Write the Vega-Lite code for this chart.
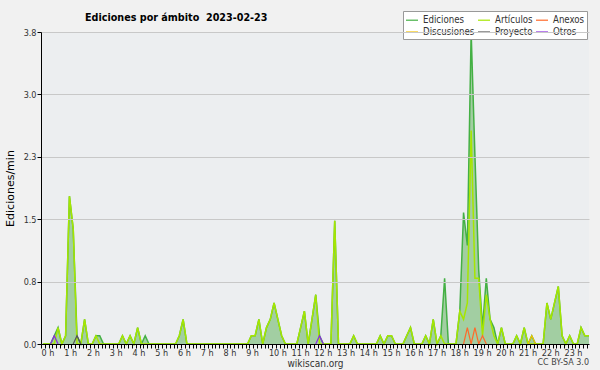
{
  "$schema": "https://vega.github.io/schema/vega-lite/v6.json",
  "width": 548,
  "height": 312,
  "autosize": {"type": "none"},
  "padding": {"left": 41, "top": 32, "right": 11, "bottom": 26},
  "background": "#f1f1f1",
  "config": {
    "view": {"fill": "#eceef0", "stroke": null},
    "font": "DejaVu Sans Condensed"
  },
  "title": {
    "text": "Ediciones por ámbito\u00a0 2023-02-23",
    "anchor": "start",
    "frame": "group",
    "dx": 44,
    "offset": -13,
    "fontSize": 10.7,
    "fontWeight": "bold",
    "font": "DejaVu Sans Condensed",
    "color": "#000000"
  },
  "datasets": {
    "main": [
      {"t":0.083,"E":0,"A":0},{"t":0.25,"E":0,"A":0},{"t":0.417,"E":0,"A":0},{"t":0.583,"E":0.1,"A":0},{"t":0.75,"E":0.2,"A":0.2},{"t":0.917,"E":0,"A":0},
      {"t":1.083,"E":0.1,"A":0.1},{"t":1.25,"E":1.8,"A":1.8},{"t":1.417,"E":1.4,"A":1.4},{"t":1.583,"E":0.1,"A":0},{"t":1.75,"E":0,"A":0},{"t":1.917,"E":0.3,"A":0.3},
      {"t":2.083,"E":0,"A":0},{"t":2.25,"E":0,"A":0},{"t":2.417,"E":0.1,"A":0.1},{"t":2.583,"E":0.1,"A":0},{"t":2.75,"E":0,"A":0},{"t":2.917,"E":0,"A":0},
      {"t":3.083,"E":0,"A":0},{"t":3.25,"E":0,"A":0},{"t":3.417,"E":0,"A":0},{"t":3.583,"E":0.1,"A":0.1},{"t":3.75,"E":0,"A":0},{"t":3.917,"E":0.1,"A":0.1},
      {"t":4.083,"E":0,"A":0},{"t":4.25,"E":0.2,"A":0.2},{"t":4.417,"E":0,"A":0},{"t":4.583,"E":0.1,"A":0},{"t":4.75,"E":0,"A":0},{"t":4.917,"E":0,"A":0},
      {"t":5.083,"E":0,"A":0},{"t":5.25,"E":0,"A":0},{"t":5.417,"E":0,"A":0},{"t":5.583,"E":0,"A":0},{"t":5.75,"E":0,"A":0},{"t":5.917,"E":0,"A":0},
      {"t":6.083,"E":0.1,"A":0.1},{"t":6.25,"E":0.3,"A":0.3},{"t":6.417,"E":0,"A":0},{"t":6.583,"E":0,"A":0},{"t":6.75,"E":0,"A":0},{"t":6.917,"E":0,"A":0},
      {"t":7.083,"E":0,"A":0},{"t":7.25,"E":0,"A":0},{"t":7.417,"E":0,"A":0},{"t":7.583,"E":0,"A":0},{"t":7.75,"E":0,"A":0},{"t":7.917,"E":0,"A":0},
      {"t":8.083,"E":0,"A":0},{"t":8.25,"E":0,"A":0},{"t":8.417,"E":0,"A":0},{"t":8.583,"E":0,"A":0},{"t":8.75,"E":0,"A":0},{"t":8.917,"E":0,"A":0},
      {"t":9.083,"E":0,"A":0},{"t":9.25,"E":0.1,"A":0.1},{"t":9.417,"E":0.1,"A":0.1},{"t":9.583,"E":0.3,"A":0.3},{"t":9.75,"E":0,"A":0},{"t":9.917,"E":0.2,"A":0.2},
      {"t":10.083,"E":0.3,"A":0.3},{"t":10.25,"E":0.5,"A":0.5},{"t":10.417,"E":0.3,"A":0.3},{"t":10.583,"E":0.1,"A":0.1},{"t":10.75,"E":0,"A":0},{"t":10.917,"E":0,"A":0},
      {"t":11.083,"E":0,"A":0},{"t":11.25,"E":0,"A":0},{"t":11.417,"E":0.2,"A":0.2},{"t":11.583,"E":0.4,"A":0.4},{"t":11.75,"E":0,"A":0},{"t":11.917,"E":0.3,"A":0.3},
      {"t":12.083,"E":0.6,"A":0.6},{"t":12.25,"E":0.1,"A":0},{"t":12.417,"E":0,"A":0},{"t":12.583,"E":0,"A":0},{"t":12.75,"E":0,"A":0},{"t":12.917,"E":1.5,"A":1.5},
      {"t":13.083,"E":0,"A":0},{"t":13.25,"E":0,"A":0},{"t":13.417,"E":0,"A":0},{"t":13.583,"E":0,"A":0},{"t":13.75,"E":0.1,"A":0.1},{"t":13.917,"E":0,"A":0},
      {"t":14.083,"E":0,"A":0},{"t":14.25,"E":0,"A":0},{"t":14.417,"E":0,"A":0},{"t":14.583,"E":0,"A":0},{"t":14.75,"E":0,"A":0},{"t":14.917,"E":0.1,"A":0.1},
      {"t":15.083,"E":0,"A":0},{"t":15.25,"E":0.1,"A":0.1},{"t":15.417,"E":0.1,"A":0.1},{"t":15.583,"E":0,"A":0},{"t":15.75,"E":0,"A":0},{"t":15.917,"E":0,"A":0},
      {"t":16.083,"E":0.1,"A":0.1},{"t":16.25,"E":0.2,"A":0.2},{"t":16.417,"E":0,"A":0},{"t":16.583,"E":0,"A":0},{"t":16.75,"E":0,"A":0},{"t":16.917,"E":0.1,"A":0.1},
      {"t":17.083,"E":0,"A":0},{"t":17.25,"E":0.3,"A":0.3},{"t":17.417,"E":0,"A":0},{"t":17.583,"E":0.1,"A":0.1},{"t":17.75,"E":0.8,"A":0},{"t":17.917,"E":0,"A":0},
      {"t":18.083,"E":0,"A":0},{"t":18.25,"E":0,"A":0},{"t":18.417,"E":0.4,"A":0.4},{"t":18.583,"E":1.6,"A":0.3},{"t":18.75,"E":1.2,"A":0.5},{"t":18.917,"E":3.8,"A":2.6},
      {"t":19.083,"E":2.3,"A":0.8},{"t":19.25,"E":0.9,"A":0.8},{"t":19.417,"E":0.2,"A":0.1},{"t":19.583,"E":0.8,"A":0.6},{"t":19.75,"E":0.3,"A":0.3},{"t":19.917,"E":0.2,"A":0.1},
      {"t":20.083,"E":0,"A":0},{"t":20.25,"E":0.2,"A":0.2},{"t":20.417,"E":0,"A":0},{"t":20.583,"E":0,"A":0},{"t":20.75,"E":0,"A":0},{"t":20.917,"E":0.1,"A":0.1},
      {"t":21.083,"E":0,"A":0},{"t":21.25,"E":0.2,"A":0.2},{"t":21.417,"E":0,"A":0},{"t":21.583,"E":0.1,"A":0},{"t":21.75,"E":0,"A":0},{"t":21.917,"E":0,"A":0},
      {"t":22.083,"E":0,"A":0},{"t":22.25,"E":0.5,"A":0.5},{"t":22.417,"E":0.3,"A":0.3},{"t":22.583,"E":0.5,"A":0.5},{"t":22.75,"E":0.7,"A":0.7},{"t":22.917,"E":0.1,"A":0.1},
      {"t":23.083,"E":0,"A":0},{"t":23.25,"E":0.1,"A":0.1},{"t":23.417,"E":0,"A":0},{"t":23.583,"E":0,"A":0},{"t":23.75,"E":0.2,"A":0.2},{"t":23.917,"E":0.1,"A":0.1},
      {"t":24.1,"E":0.1,"A":0.1}
    ],
    "anexos": [
      {"t":18.583,"v":0},{"t":18.75,"v":0.2},{"t":18.917,"v":0},{"t":19.083,"v":0.2},{"t":19.25,"v":0},{"t":19.417,"v":0.1},{"t":19.583,"v":0}
    ],
    "discusiones": [
      {"t":21.417,"v":0},{"t":21.583,"v":0.1},{"t":21.75,"v":0}
    ],
    "proyecto": [
      {"t":1.417,"v":0},{"t":1.583,"v":0.1},{"t":1.75,"v":0}
    ],
    "otros": [
      {"t":0.417,"v":0,"g":1},{"t":0.583,"v":0.1,"g":1},{"t":0.75,"v":0,"g":1},
      {"t":12.083,"v":0,"g":2},{"t":12.25,"v":0.1,"g":2},{"t":12.417,"v":0,"g":2}
    ],
    "credit": [{"t":24.1,"v":0,"label":"CC BY-SA 3.0"}]
  },
  "encoding": {
    "x": {
      "field": "t",
      "type": "quantitative",
      "scale": {"domain": [0, 24.1], "nice": false, "zero": false},
      "axis": {
        "values": [0,0.167,0.333,0.5,0.667,0.833,1,1.167,1.333,1.5,1.667,1.833,2,2.167,2.333,2.5,2.667,2.833,3,3.167,3.333,3.5,3.667,3.833,4,4.167,4.333,4.5,4.667,4.833,5,5.167,5.333,5.5,5.667,5.833,6,6.167,6.333,6.5,6.667,6.833,7,7.167,7.333,7.5,7.667,7.833,8,8.167,8.333,8.5,8.667,8.833,9,9.167,9.333,9.5,9.667,9.833,10,10.167,10.333,10.5,10.667,10.833,11,11.167,11.333,11.5,11.667,11.833,12,12.167,12.333,12.5,12.667,12.833,13,13.167,13.333,13.5,13.667,13.833,14,14.167,14.333,14.5,14.667,14.833,15,15.167,15.333,15.5,15.667,15.833,16,16.167,16.333,16.5,16.667,16.833,17,17.167,17.333,17.5,17.667,17.833,18,18.167,18.333,18.5,18.667,18.833,19,19.167,19.333,19.5,19.667,19.833,20,20.167,20.333,20.5,20.667,20.833,21,21.167,21.333,21.5,21.667,21.833,22,22.167,22.333,22.5,22.667,22.833,23,23.167,23.333,23.5,23.667,23.833,24],
        "labelExpr": "abs(datum.value - round(datum.value)) < 0.01 && datum.value < 23.5 ? round(datum.value) + ' h' : ''",
        "labelAlign": "left",
        "labelDx": -2,
        "labelFontSize": 9,
        "labelColor": "#333333",
        "labelPadding": 0,
        "labelOverlap": false,
        "labelFlush": false,
        "labelBound": false,
        "tickSize": 4,
        "tickColor": "#000000",
        "domainColor": "#000000",
        "grid": false,
        "title": "wikiscan.org",
        "titleFontSize": 10,
        "titleFontWeight": "normal",
        "titleColor": "#333333",
        "titlePadding": 1,
        "zindex": 1
      }
    }
  },
  "layer": [
    {
      "data": {"name": "main"},
      "mark": {"type": "area", "color": "#a2cea2", "interpolate": "linear"},
      "encoding": {
        "y": {
          "field": "E",
          "type": "quantitative",
          "scale": {"domain": [0, 3.8], "nice": false},
          "axis": {
            "values": [0, 0.76, 1.52, 2.28, 3.04, 3.8],
            "labelExpr": "format(datum.value, '.1f')",
            "labelFontSize": 9,
            "labelColor": "#333333",
            "labelPadding": 1,
            "tickSize": 4,
            "tickColor": "#000000",
            "domainColor": "#000000",
            "grid": true,
            "gridColor": "#c8c8c8",
            "title": "Ediciones/min",
            "titleFont": "DejaVu Sans",
            "titleFontSize": 11,
            "titleFontWeight": "normal",
            "titleColor": "#000000",
            "titlePadding": 8,
            "zindex": 1
          }
        }
      }
    },
    {
      "data": {"name": "main"},
      "mark": {"type": "line", "strokeWidth": 1.5},
      "encoding": {
        "y": {"field": "E", "type": "quantitative"},
        "color": {
          "datum": "Ediciones",
          "type": "nominal",
          "scale": {
            "domain": ["Ediciones", "Artículos", "Anexos", "Discusiones", "Proyecto", "Otros"],
            "range": ["#44b044", "#a6e600", "#ff6a2a", "#f5c400", "#555555", "#8a2be2"]
          },
          "legend": {
            "orient": "none",
            "legendX": 362,
            "legendY": -21,
            "columns": 3,
            "direction": "horizontal",
            "title": null,
            "symbolType": "stroke",
            "symbolSize": 144,
            "symbolStrokeWidth": 1.2,
            "labelFont": "DejaVu Sans Condensed",
            "labelFontSize": 9.6,
            "labelColor": "#333333",
            "labelOffset": 4,
            "columnPadding": 0,
            "rowPadding": 0,
            "padding": 2,
            "fillColor": "#ffffff",
            "strokeColor": "#999999"
          }
        }
      }
    },
    {
      "data": {"name": "main"},
      "mark": {"type": "line", "strokeWidth": 1.5},
      "encoding": {
        "y": {"field": "A", "type": "quantitative"},
        "color": {"datum": "Artículos", "type": "nominal"}
      }
    },
    {
      "data": {"name": "anexos"},
      "mark": {"type": "line", "strokeWidth": 1.2},
      "encoding": {
        "y": {"field": "v", "type": "quantitative"},
        "color": {"datum": "Anexos", "type": "nominal"}
      }
    },
    {
      "data": {"name": "discusiones"},
      "mark": {"type": "line", "strokeWidth": 1.2},
      "encoding": {
        "y": {"field": "v", "type": "quantitative"},
        "color": {"datum": "Discusiones", "type": "nominal"}
      }
    },
    {
      "data": {"name": "proyecto"},
      "mark": {"type": "line", "strokeWidth": 1.2},
      "encoding": {
        "y": {"field": "v", "type": "quantitative"},
        "color": {"datum": "Proyecto", "type": "nominal"}
      }
    },
    {
      "data": {"name": "otros"},
      "mark": {"type": "line", "strokeWidth": 1.2},
      "encoding": {
        "y": {"field": "v", "type": "quantitative"},
        "detail": {"field": "g", "type": "nominal"},
        "color": {"datum": "Otros", "type": "nominal"}
      }
    },
    {
      "data": {"name": "credit"},
      "mark": {"type": "text", "align": "right", "baseline": "alphabetic", "dy": 21, "fontSize": 8, "color": "#444444", "font": "DejaVu Sans"},
      "encoding": {
        "y": {"field": "v", "type": "quantitative"},
        "text": {"field": "label", "type": "nominal"}
      }
    }
  ]
}
